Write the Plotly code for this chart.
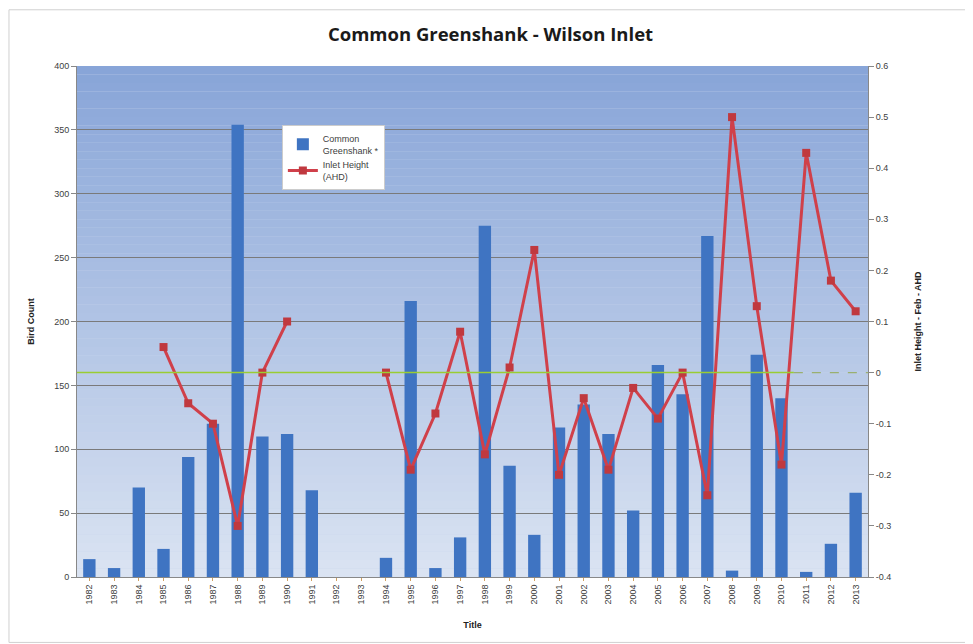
import plotly.graph_objects as go

years = list(range(1982, 2014))
bird_count = [14, 7, 70, 22, 94, 120, 354, 110, 112, 68, 0, 0, 15, 216, 7, 31,
              275, 87, 33, 117, 135, 112, 52, 166, 143, 267, 5, 174, 140, 4, 26, 66]
inlet_height = [None, None, None, 0.05, -0.06, -0.10, -0.30, 0.0, 0.10, None, None, None,
                0.0, -0.19, -0.08, 0.08, -0.16, 0.01, 0.24, -0.20, -0.05, -0.19, -0.03,
                -0.09, 0.0, -0.24, 0.50, 0.13, -0.18, 0.43, 0.18, 0.12]
left_ticks = [0, 50, 100, 150, 200, 250, 300, 350, 400]
right_ticks = [-0.4, -0.3, -0.2, -0.1, 0, 0.1, 0.2, 0.3, 0.4, 0.5, 0.6]
right_labels = ["-0.4", "-0.3", "-0.2", "-0.1", "0", "0.1", "0.2", "0.3", "0.4", "0.5", "0.6"]

fig = go.Figure()
fig.add_trace(go.Bar(x=years, y=bird_count, name="Common<br>Greenshank *",
                     marker=dict(color="#3f74c2", line=dict(width=0)), width=0.5))
fig.add_trace(go.Scatter(x=years, y=inlet_height, name="Inlet Height<br>(AHD)", yaxis="y2",
                         mode="lines+markers", connectgaps=False,
                         line=dict(color="#d0404a", width=3),
                         marker=dict(symbol="square", size=8, color="#c0393f")))

# gradient background
n = 60
top = (136, 165, 216)
bot = (218, 227, 242)
shapes = []
for i in range(n):
    t = i / (n - 1)
    c = tuple(int(round(top[k] + (bot[k] - top[k]) * t)) for k in range(3))
    shapes.append(dict(type="rect", xref="x domain", yref="y domain", x0=0, x1=1,
                       y0=1 - (i + 1) / n, y1=1 - i / n, layer="below",
                       line=dict(width=0), fillcolor="rgb(%d,%d,%d)" % c))
# zero line of inlet height
shapes.append(dict(type="line", xref="x", yref="y2", x0=1981.5, x1=2010.5, y0=0, y1=0,
                   line=dict(color="#9acd32", width=1.5)))
shapes.append(dict(type="line", xref="x", yref="y2", x0=2010.5, x1=2013.5, y0=0, y1=0,
                   line=dict(color="#9ab070", width=1.2, dash="dash")))
# outer frame
shapes.append(dict(type="rect", xref="paper", yref="paper", x0=-0.086, x1=1.13, y0=-0.128, y1=1.11,
                   line=dict(color="#d0d0d0", width=1)))

fig.update_layout(
    width=965, height=636,
    margin=dict(l=69, r=105, t=58, b=67),
    paper_bgcolor="white", plot_bgcolor="#c8d5ec",
    title=dict(text="<b>Common Greenshank - Wilson Inlet</b>", x=0.5, xanchor="center",
               y=1 - 27 / 636, yanchor="middle",
               font=dict(family="Open Sans, Arial", size=18.5, color="#1a1a1a")),
    font=dict(family="Liberation Sans, Arial", size=9, color="#404040"),
    showlegend=True,
    legend=dict(x=0.259, y=0.8845, xanchor="left", yanchor="top", bgcolor="white",
                bordercolor="#cccccc", borderwidth=1, font=dict(size=9, color="#404040"),
                tracegroupgap=2, itemwidth=30),
    xaxis=dict(range=[1981.5, 2013.5], tickmode="array", tickvals=years,
               ticktext=[str(y) for y in years], tickangle=-90, showgrid=False,
               ticks="outside", ticklen=3, tickcolor="#d0a060",
               showline=True, linecolor="#888888", mirror=False,
               title=dict(text="<b>Title</b>", font=dict(size=9, color="#222222"), standoff=18)),
    yaxis=dict(range=[0, 400], tickmode="array", tickvals=left_ticks, showgrid=True,
               gridcolor="#7a7a7a", gridwidth=1, ticks="outside", ticklen=5, tickcolor="#888888",
               showline=True, linecolor="#888888", zeroline=False,
               title=dict(text="<b>Bird Count</b>", font=dict(size=9, color="#222222"), standoff=18)),
    yaxis2=dict(range=[-0.4, 0.6], tickmode="array", tickvals=right_ticks, ticktext=right_labels,
                overlaying="y", side="right", showgrid=False, zeroline=False,
                ticks="outside", ticklen=5, tickcolor="#888888",
                showline=True, linecolor="#888888",
                title=dict(text="<b>Inlet Height - Feb - AHD</b>", font=dict(size=9, color="#222222"), standoff=24)),
    shapes=shapes,
)

fig.write_html("out.html")
